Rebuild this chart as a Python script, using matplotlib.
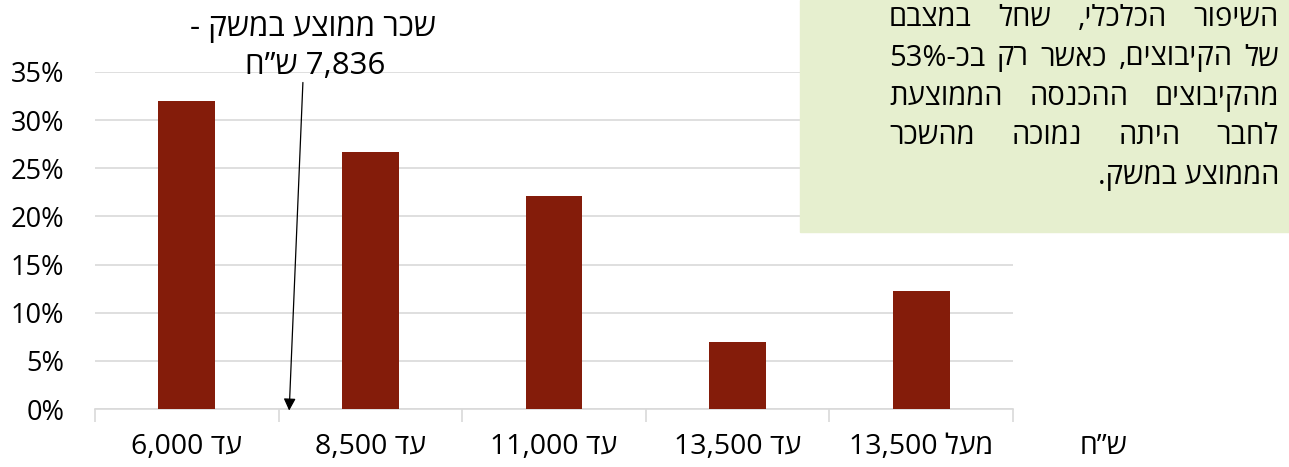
import re
import matplotlib
matplotlib.use("Agg")
import matplotlib.pyplot as plt
from matplotlib.patches import Rectangle

plt.rcParams['font.family'] = ['Open Sans', 'DejaVu Sans']

# data
categories = ["עד 6,000", "עד 8,500", "עד 11,000", "עד 13,500", "מעל 13,500"]
shares = [32.0, 26.7, 22.1, 7.0, 12.3]
currency = "ש”ח"
avg_wage_lines = ["שכר ממוצע במשק -", "7,836 ש”ח"]
note_lines = [
    "השיפור הכלכלי, שחל במצבם",
    "של הקיבוצים, כאשר רק בכ-53%",
    "מהקיבוצים ההכנסה הממוצעת",
    "לחבר היתה נמוכה מהשכר",
    "הממוצע במשק.",
]


def visual(s):
    # matplotlib has no bidi support: flip hebrew, keep numbers left-to-right
    parts = re.split(r'(\d[\d,.]*%?)', s)
    return ''.join(p if re.match(r'\d', p) else p[::-1] for p in reversed(parts))


W, H = 1289, 467
fig = plt.figure(figsize=(W / 100, H / 100), dpi=100)
ax = fig.add_axes([95 / W, (H - 409) / H, (1013 - 95) / W, (409 - 72) / H])

x = range(len(categories))
ax.bar(x, shares, width=0.31, color='#841c0a', zorder=3)

ax.set_xlim(-0.5, len(categories) - 0.5)
ax.set_ylim(0, 35)
ax.set_yticks(range(0, 36, 5))
ax.set_yticklabels([f"{v}%" for v in range(0, 36, 5)], fontsize=19.5)
ax.tick_params(axis='y', length=0, pad=22)
ax.grid(axis='y', color='#d9d9d9', lw=1.2, zorder=0)
for s in ['top', 'right', 'left']:
    ax.spines[s].set_visible(False)
ax.spines['bottom'].set_color('#d9d9d9')
ax.spines['bottom'].set_linewidth(1.2)

# category boundary ticks
ax.set_xticks([i - 0.5 for i in range(len(categories) + 1)])
ax.set_xticklabels([])
ax.tick_params(axis='x', length=9, color='#d9d9d9', width=1.2)
for i, c in enumerate(categories):
    ax.text(i, -3.9, visual(c), ha='center', va='center', fontsize=20.5)
fig.text(1103 / W, 1 - 447 / H, visual(currency), ha='center', va='center', fontsize=20.5)

# average wage arrow
ax.annotate('', xy=(0.557, -0.45), xytext=(0.633, 34.2),
            arrowprops=dict(arrowstyle='-|>', color='black', lw=0.9,
                            mutation_scale=18), annotation_clip=False)
fig.text(313 / W, 1 - 36 / H, visual(avg_wage_lines[0]), ha='center',
         va='baseline', fontsize=22.5)
fig.text(315 / W, 1 - 74 / H, visual(avg_wage_lines[1]), ha='center',
         va='baseline', fontsize=22.5)

# note box
fig.patches.append(Rectangle((800 / W, 1 - 232 / H), (W - 800) / W, 232 / H,
                             transform=fig.transFigure, color='#e6efcf', zorder=5))
left, right = 889, 1279
renderer = fig.canvas.get_renderer()
for k, line in enumerate(note_lines):
    yb = 1 - (26 + 39.5 * k) / H
    if k == len(note_lines) - 1:
        fig.text(right / W, yb, visual(line), ha='right', va='baseline',
                 fontsize=21, zorder=6)
        continue
    words = visual(line).split(' ')
    texts = [fig.text(0, yb, w, ha='left', va='baseline', fontsize=21, zorder=6)
             for w in words]
    widths = [t.get_window_extent(renderer).width for t in texts]
    gap = (right - left - sum(widths)) / (len(words) - 1)
    pos = left
    for t, w in zip(texts, widths):
        t.set_x(pos / W)
        pos += w + gap

fig.savefig('out.png', dpi=100)
